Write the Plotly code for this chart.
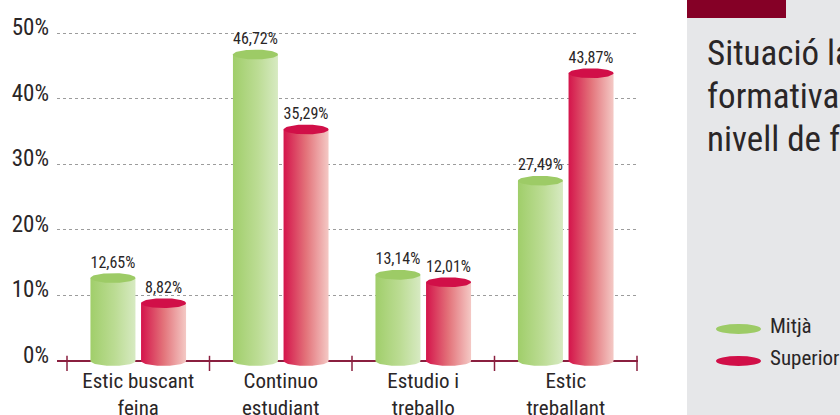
import numpy as np
import plotly.graph_objects as go

# ---------------- data ----------------
categories = ["Estic buscant<br>feina", "Continuo<br>estudiant", "Estudio i<br>treballo", "Estic<br>treballant"]
series_names = ["Mitjà", "Superior"]
mitja = [12.65, 46.72, 13.14, 27.49]
superior = [8.82, 35.29, 12.01, 43.87]
y_ticks = [0, 10, 20, 30, 40, 50]
y_tick_labels = [f"{v}%" for v in y_ticks]
title_lines = ["Situació laboral i", "formativa segons el", "nivell de formació"]

# ---------------- styling / geometry ----------------
FONT = "Roboto Condensed, Liberation Sans Narrow, DejaVu Sans Condensed, Roboto, sans-serif"
TXT = "#2a2627"
MAROON = "#8a1f3f"
W, H = 840, 415
ml, mr, mt, mb = 57, 202, 20, 44
plot_w, plot_h = W - ml - mr, H - mt - mb
n = len(categories)
px_x = 570 / n                      # pixels per category
x_range = [-0.5 - 10 / px_x, n - 0.5 + 1 / px_x]
px_y = 6.56                          # pixels per percent unit
y_top = (361 - mt) / px_y
y_bot = -(H - mb - 361) / px_y
hw = 22.5 / px_x                     # half bar width (axis units)
off = 25.3 / px_x                    # group offset
ry = 4.9 / px_y                      # ellipse vertical semi-axis (axis units)
lab_off = 6.5 / px_y

styles = {
    "Mitjà": dict(scale=[[0, "#a0ce6a"], [0.55, "#bcdc94"], [1, "#d7eac2"]], top="#9dcb66"),
    "Superior": dict(scale=[[0, "#d4144b"], [0.5, "#e3737a"], [1, "#f4c9c5"]], top="#d10f48"),
}

def px2paper_x(p):
    return (p - ml) / plot_w

def px2paper_y(p):
    return (H - mb - p) / plot_h

fig = go.Figure()
t = np.linspace(0, np.pi, 40)
t2 = np.linspace(0, 2 * np.pi, 80)

for si, (name, vals) in enumerate(zip(series_names, [mitja, superior])):
    st = styles[name]
    sign = -1 if si == 0 else 1
    for ci, v in enumerate(vals):
        c = ci + sign * off
        xs = [c - hw, c + hw, c + hw] + list(c + hw * np.cos(t)) + [c - hw]
        ys = [v, v, 0] + list(-ry * np.sin(t)) + [v]
        fig.add_trace(go.Scatter(
            x=xs, y=ys, mode="lines", fill="toself", line=dict(width=0),
            fillgradient=dict(type="horizontal", colorscale=st["scale"]),
            hoverinfo="skip", showlegend=False))
        fig.add_trace(go.Scatter(
            x=list(c + hw * np.cos(t2)), y=list(v + ry * np.sin(t2)),
            mode="lines", fill="toself", fillcolor=st["top"], line=dict(width=0),
            hoverinfo="skip", showlegend=False))
    fig.add_trace(go.Scatter(
        x=[i + sign * off for i in range(n)], y=[v + lab_off for v in vals],
        mode="text", text=[f"{v:.2f}%".replace(".", ",") for v in vals],
        textposition="top center", textfont=dict(family=FONT, size=16, color=TXT),
        hoverinfo="skip", showlegend=False))

# boundary tick marks on the baseline
fig.add_trace(go.Scatter(
    x=[i - 0.5 for i in range(n + 1)], y=[-2.5 / px_y] * (n + 1), mode="markers",
    marker=dict(symbol="line-ns", size=11, line=dict(color=MAROON, width=1.5)),
    hoverinfo="skip", showlegend=False))

fig.update_xaxes(range=x_range, tickvals=list(range(n)), ticktext=categories,
                 showgrid=False, zeroline=False, showline=False, ticks="",
                 ticklabelstandoff=-5,
                 tickfont=dict(family=FONT, size=21, color=TXT), fixedrange=True)
fig.update_yaxes(range=[y_bot, y_top], tickvals=y_ticks, ticktext=y_tick_labels,
                 showgrid=True, gridcolor="#9c9c9c", griddash="dot", gridwidth=1,
                 zeroline=True, zerolinecolor=MAROON, zerolinewidth=2,
                 showline=False, ticks="", ticklabelshift=-6, ticklabelstandoff=7,
                 tickfont=dict(family=FONT, size=23, color=TXT), fixedrange=True)

shapes = [
    dict(type="rect", xref="paper", yref="paper", x0=px2paper_x(687), x1=px2paper_x(860),
         y0=px2paper_y(430), y1=px2paper_y(-10), fillcolor="#e6e7e9", line=dict(width=0), layer="below"),
    dict(type="rect", xref="paper", yref="paper", x0=px2paper_x(687), x1=px2paper_x(786),
         y0=px2paper_y(18), y1=px2paper_y(-10), fillcolor="#850026", line=dict(width=0), layer="below"),
]
annotations = []
for i, line in enumerate(title_lines):
    annotations.append(dict(xref="paper", yref="paper", x=px2paper_x(705), y=px2paper_y(54 + 42.5 * i),
                            xanchor="left", yanchor="middle", showarrow=False, text=line,
                            font=dict(family=FONT, size=35, color=TXT)))
for i, name in enumerate(series_names):
    yc = 329 + 32 * i
    shapes.append(dict(type="circle", xref="paper", yref="paper",
                       x0=px2paper_x(716), x1=px2paper_x(761),
                       y0=px2paper_y(yc + 5), y1=px2paper_y(yc - 5),
                       fillcolor=styles[name]["top"], line=dict(width=0)))
    annotations.append(dict(xref="paper", yref="paper", x=px2paper_x(768), y=px2paper_y(yc - 3),
                            xanchor="left", yanchor="middle", showarrow=False, text=name,
                            font=dict(family=FONT, size=21, color=TXT)))

fig.update_layout(width=W, height=H, margin=dict(l=ml, r=mr, t=mt, b=mb, autoexpand=False),
                  paper_bgcolor="white", plot_bgcolor="rgba(0,0,0,0)",
                  shapes=shapes, annotations=annotations, showlegend=False,
                  font=dict(family=FONT, color=TXT))

fig.write_html("out.html", config={"displayModeBar": False, "staticPlot": True},
               post_script="document.body.style.margin='0';document.body.style.overflow='hidden';")
